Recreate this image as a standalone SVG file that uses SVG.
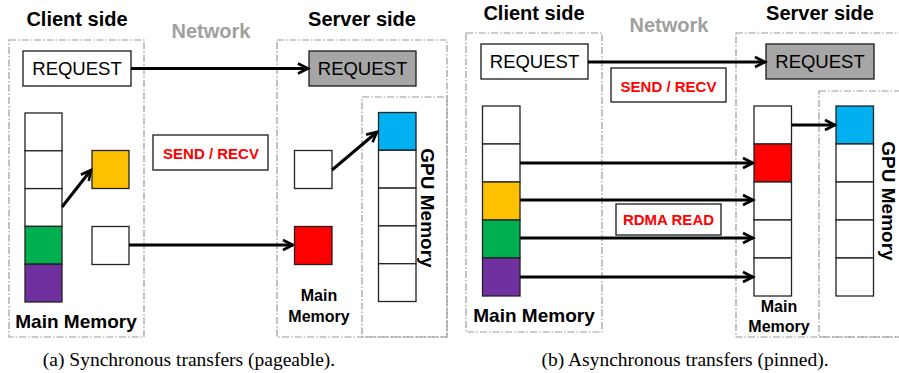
<svg xmlns="http://www.w3.org/2000/svg" width="899" height="373" viewBox="0 0 899 373">
<defs>
<marker id="arr" viewBox="0 0 12 12" markerWidth="12" markerHeight="12" refX="11" refY="6" orient="auto" markerUnits="userSpaceOnUse" overflow="visible">
<path d="M1,1 L11,6 L1,11" fill="none" stroke="#000" stroke-width="2.6" stroke-linejoin="miter"/>
</marker>
<style>
.dash{fill:none;stroke:#9a9a9a;stroke-width:1.2;stroke-dasharray:7,2,1.5,2}
.box{stroke:#1a1a1a;stroke-width:1.3}
.cell{stroke:#222;stroke-width:1.3}
.title{font-family:"Liberation Sans",Arial,sans-serif;font-weight:bold;font-size:20px;fill:#000;text-anchor:middle}
.net{font-family:"Liberation Sans",Arial,sans-serif;font-weight:bold;font-size:20px;fill:#a0a0a0;text-anchor:middle}
.req{font-family:"Liberation Sans",Arial,sans-serif;font-size:18.5px;fill:#000;text-anchor:middle}
.red{font-family:"Liberation Sans",Arial,sans-serif;font-weight:bold;font-size:15px;fill:#ff0000;text-anchor:middle}
.mm{font-family:"Liberation Sans",Arial,sans-serif;font-weight:bold;font-size:19px;fill:#000;text-anchor:middle}
.mms{font-family:"Liberation Sans",Arial,sans-serif;font-weight:bold;font-size:16px;fill:#000;text-anchor:middle}
.cap{font-family:"Liberation Serif","Times New Roman",serif;font-size:19.5px;fill:#000;text-anchor:middle}
.conn{stroke:#000;stroke-width:3;fill:none;marker-end:url(#arr)}
</style>
</defs>
<rect width="899" height="373" fill="#fff"/>

<!-- Panel (a) -->
<g id="a-regions">
<rect class="dash" x="9" y="40" width="135" height="297"/>
<rect class="dash" x="277" y="40" width="170" height="297"/>
<rect class="dash" x="362" y="97" width="85" height="240"/>
<text class="title" x="77" y="26">Client side</text>
<text class="net" x="211" y="38">Network</text>
<text class="title" x="362" y="26">Server side</text>
<text class="mm" x="76" y="328">Main Memory</text>
<text class="mms" x="319" y="301">Main</text>
<text class="mms" x="319" y="322">Memory</text>
<text class="mm" transform="translate(421,208) rotate(90)" x="0" y="0">GPU Memory</text>
</g>
<g id="a-client-request"><rect class="box" x="23" y="51" width="108" height="35" fill="#fff"/><text class="req" x="77" y="75">REQUEST</text></g>
<g id="a-server-request"><rect class="box" x="309" y="51" width="107" height="35" fill="#a6a6a6"/><text class="req" x="362.5" y="75">REQUEST</text></g>
<g id="a-send-recv"><rect class="box" x="153" y="135" width="115" height="35" fill="#fff"/><text class="red" x="211" y="158.5">SEND / RECV</text></g>
<g id="a-client-stack">
<rect class="cell" x="25" y="113" width="37" height="37.8" fill="#fff"/>
<rect class="cell" x="25" y="150.8" width="37" height="37.8" fill="#fff"/>
<rect class="cell" x="25" y="188.6" width="37" height="37.8" fill="#fff"/>
<rect class="cell" x="25" y="226.4" width="37" height="37.8" fill="#00b050"/>
<rect class="cell" x="25" y="264.2" width="37" height="37.8" fill="#7030a0"/>
</g>
<g id="a-yellow"><rect class="cell" x="92" y="150.5" width="37" height="38" fill="#ffc000"/></g>
<g id="a-white-client"><rect class="cell" x="92" y="226.5" width="37" height="38" fill="#fff"/></g>
<g id="a-server-white"><rect class="cell" x="294.5" y="150.5" width="37.5" height="38" fill="#fff"/></g>
<g id="a-red"><rect class="cell" x="294.5" y="226.5" width="37.5" height="38" fill="#ff0000"/></g>
<g id="a-gpu-stack">
<rect class="cell" x="378.5" y="112.5" width="37.5" height="37.8" fill="#00b0f0"/>
<rect class="cell" x="378.5" y="150.3" width="37.5" height="37.8" fill="#fff"/>
<rect class="cell" x="378.5" y="188.1" width="37.5" height="37.8" fill="#fff"/>
<rect class="cell" x="378.5" y="225.9" width="37.5" height="37.8" fill="#fff"/>
<rect class="cell" x="378.5" y="263.7" width="37.5" height="37.8" fill="#fff"/>
</g>
<text class="cap" x="189" y="366">(a) Synchronous transfers (pageable).</text>

<!-- Panel (b) -->
<g id="b-regions">
<rect class="dash" x="466" y="33" width="136" height="299"/>
<rect class="dash" x="736" y="33" width="170" height="304"/>
<rect class="dash" x="819" y="91" width="87" height="246"/>
<text class="title" x="534" y="20">Client side</text>
<text class="net" x="669" y="32">Network</text>
<text class="title" x="820" y="20">Server side</text>
<text class="mm" x="534" y="322">Main Memory</text>
<text class="mms" x="779" y="312">Main</text>
<text class="mms" x="779" y="332">Memory</text>
<text class="mm" transform="translate(882,201) rotate(90)" x="0" y="0">GPU Memory</text>
</g>
<g id="b-client-request"><rect class="box" x="481" y="44" width="107" height="35" fill="#fff"/><text class="req" x="534.5" y="68">REQUEST</text></g>
<g id="b-server-request"><rect class="box" x="766" y="44" width="108" height="35" fill="#a6a6a6"/><text class="req" x="820" y="68">REQUEST</text></g>
<g id="b-send-recv"><rect class="box" x="611" y="68" width="115" height="34" fill="#fff"/><text class="red" x="668.5" y="91.5">SEND / RECV</text></g>
<g id="b-rdma-read"><rect class="box" x="616" y="204" width="105" height="31" fill="#fff"/><text class="red" x="668.5" y="225">RDMA READ</text></g>
<g id="b-client-stack">
<rect class="cell" x="482.5" y="106" width="37.5" height="38" fill="#fff"/>
<rect class="cell" x="482.5" y="144" width="37.5" height="38" fill="#fff"/>
<rect class="cell" x="482.5" y="182" width="37.5" height="38" fill="#ffc000"/>
<rect class="cell" x="482.5" y="220" width="37.5" height="38" fill="#00b050"/>
<rect class="cell" x="482.5" y="258" width="37.5" height="38" fill="#7030a0"/>
</g>
<g id="b-server-stack">
<rect class="cell" x="754" y="106" width="37.5" height="38" fill="#fff"/>
<rect class="cell" x="754" y="144" width="37.5" height="38" fill="#ff0000"/>
<rect class="cell" x="754" y="182" width="37.5" height="38" fill="#fff"/>
<rect class="cell" x="754" y="220" width="37.5" height="38" fill="#fff"/>
<rect class="cell" x="754" y="258" width="37.5" height="38" fill="#fff"/>
</g>
<g id="b-gpu-stack">
<rect class="cell" x="836" y="106" width="37.5" height="38" fill="#00b0f0"/>
<rect class="cell" x="836" y="144" width="37.5" height="38" fill="#fff"/>
<rect class="cell" x="836" y="182" width="37.5" height="38" fill="#fff"/>
<rect class="cell" x="836" y="220" width="37.5" height="38" fill="#fff"/>
<rect class="cell" x="836" y="258" width="37.5" height="38" fill="#fff"/>
</g>
<text class="cap" x="685" y="366">(b) Asynchronous transfers (pinned).</text>

<g id="connectors">
<line class="conn" x1="131" y1="68.5" x2="308" y2="68.5"/>
<line class="conn" x1="62" y1="207" x2="91" y2="170"/>
<line class="conn" x1="129" y1="245" x2="293" y2="245"/>
<line class="conn" x1="332" y1="170" x2="377" y2="132"/>
<line class="conn" x1="588" y1="62" x2="765" y2="62"/>
<line class="conn" x1="791.5" y1="125" x2="835" y2="125"/>
<line class="conn" x1="520" y1="163" x2="753" y2="163"/>
<line class="conn" x1="520" y1="200" x2="753" y2="200"/>
<line class="conn" x1="520" y1="238" x2="753" y2="238"/>
<line class="conn" x1="520" y1="277" x2="753" y2="277"/>
</g>
</svg>
